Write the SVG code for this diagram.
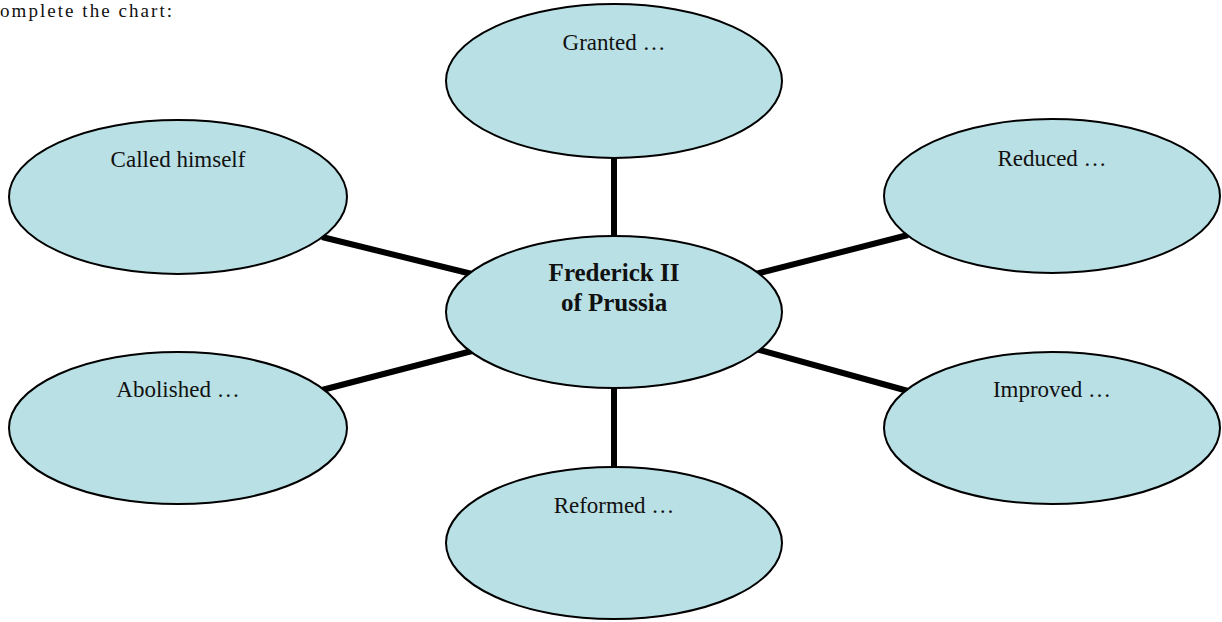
<svg xmlns="http://www.w3.org/2000/svg" width="1222" height="622" viewBox="0 0 1222 622">
<style>
.node ellipse{fill:#b9e0e4;stroke:#000;stroke-width:2}
.lbl{font-family:"Liberation Serif",serif;font-size:23px;fill:#111;text-anchor:middle}
.bold{font-weight:bold;font-size:25px}
.conn line{stroke:#000;stroke-width:6}
</style>
<rect width="1222" height="622" fill="#fff"/>
<text x="0" y="17" font-family="Liberation Serif, serif" font-size="19" fill="#111" textLength="172">omplete the chart:</text>
<g class="conn" id="connectors">
<line x1="614" y1="157" x2="614" y2="238"/>
<line x1="614" y1="387" x2="614" y2="468"/>
<line x1="322" y1="237" x2="472" y2="274"/>
<line x1="322" y1="390" x2="472" y2="351"/>
<line x1="756" y1="274" x2="908" y2="235"/>
<line x1="756" y1="349" x2="908" y2="391"/>
</g>
<g class="node" id="granted"><ellipse cx="614" cy="81" rx="168" ry="77"/><text class="lbl" x="614" y="50">Granted …</text></g>
<g class="node" id="called"><ellipse cx="178" cy="197" rx="169" ry="77"/><text class="lbl" x="178" y="167">Called himself</text></g>
<g class="node" id="reduced"><ellipse cx="1052" cy="196" rx="168" ry="77"/><text class="lbl" x="1052" y="166">Reduced …</text></g>
<g class="node" id="abolished"><ellipse cx="178" cy="428" rx="169" ry="76"/><text class="lbl" x="178" y="397">Abolished …</text></g>
<g class="node" id="improved"><ellipse cx="1052" cy="428" rx="168" ry="76"/><text class="lbl" x="1052" y="397">Improved …</text></g>
<g class="node" id="reformed"><ellipse cx="614" cy="543" rx="168" ry="76"/><text class="lbl" x="614" y="513">Reformed …</text></g>
<g class="node" id="center"><ellipse cx="614" cy="312" rx="168" ry="76"/><text class="lbl bold" x="614" y="281">Frederick II</text><text class="lbl bold" x="614" y="311">of Prussia</text></g>
</svg>
